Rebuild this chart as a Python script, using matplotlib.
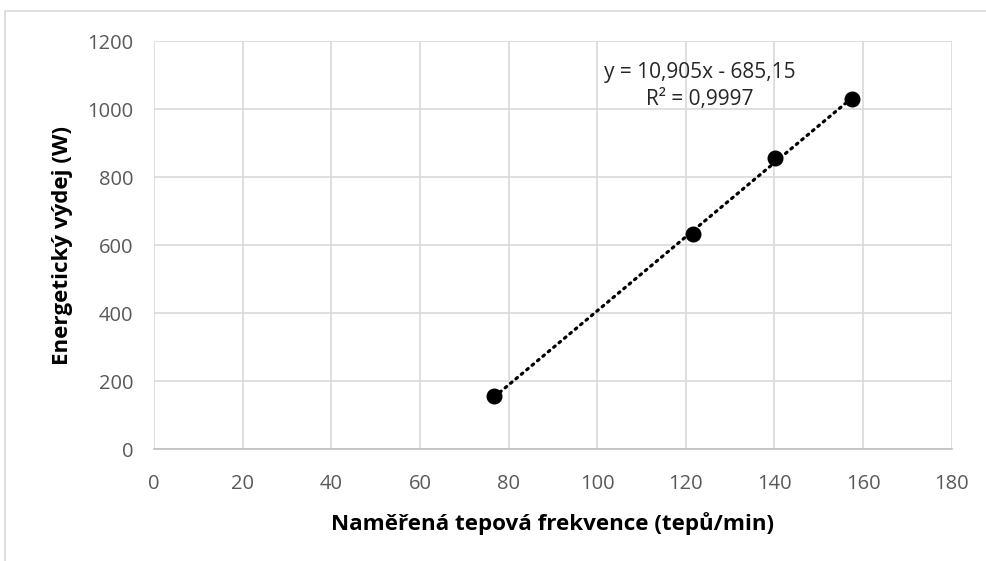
import matplotlib
matplotlib.use("Agg")
import matplotlib.pyplot as plt
import numpy as np
from matplotlib.patches import Rectangle

# hodnoty
tepova_frekvence = [76.8, 121.6, 140.2, 157.6]
energeticky_vydej = [155, 633, 855, 1030]
x_ticks = [0, 20, 40, 60, 80, 100, 120, 140, 160, 180]
y_ticks = [0, 200, 400, 600, 800, 1000, 1200]
rovnice = "y = 10,905x - 685,15"
r2_text = "R² = 0,9997"

plt.rcParams["font.family"] = ["Open Sans", "DejaVu Sans"]

fig = plt.figure(figsize=(9.86, 5.61), dpi=100)
ax = fig.add_axes([0.1562, 0.1996, 0.809, 0.7273])
renderer = fig.canvas.get_renderer()


def fit_size(txt, target_px, along="width"):
    # upraví velikost písma tak, aby text měl danou délku v pixelech
    bb = txt.get_window_extent(renderer)
    size = bb.width if along == "width" else bb.height
    txt.set_fontsize(txt.get_fontsize() * target_px / size)
    return txt.get_fontsize()


# rámeček grafu (Excel)
fig.add_artist(Rectangle((5 / 986, -0.1), 1.2, 1 - 11 / 561 + 0.1,
                         transform=fig.transFigure, fill=False,
                         edgecolor="#d9d9d9", linewidth=1.2))

# lineární trend
k, q = np.polyfit(tepova_frekvence, energeticky_vydej, 1)
xs = np.array([min(tepova_frekvence), max(tepova_frekvence)])
ax.plot(xs, k * xs + q, color="black", linewidth=2.3,
        linestyle=(0, (0.6, 1.6)), dash_capstyle="round", zorder=3)

ax.plot(tepova_frekvence, energeticky_vydej, "o", color="black",
        markersize=10.5, zorder=4)

ax.set_xlim(0, 180)
ax.set_ylim(0, 1200)
ax.set_xticks(x_ticks)
ax.set_yticks(y_ticks)
ax.grid(True, color="#d9d9d9", linewidth=1.2)
ax.set_axisbelow(True)
for s in ["top", "right", "left"]:
    ax.spines[s].set_visible(False)
ax.spines["bottom"].set_color("#bfbfbf")
ax.spines["bottom"].set_linewidth(1.2)

# velikost popisků os podle referenčního obrázku
tmp = fig.text(0, 0, "1200", fontsize=12)
tick_size = fit_size(tmp, 46)
tmp.remove()

ax.tick_params(axis="both", length=0, labelsize=tick_size,
               labelcolor="#595959")
ax.tick_params(axis="x", pad=18)
ax.tick_params(axis="y", pad=15)

xl = ax.set_xlabel("Naměřená tepová frekvence (tepů/min)", fontsize=13,
                   fontweight="bold", va="center", color="black")
yl = ax.set_ylabel("Energetický výdej (W)", fontsize=13, fontweight="bold",
                   va="center", color="black")
fit_size(xl, 440)
fit_size(yl, 237, along="height")
ax.xaxis.set_label_coords(0.5, (449 - 523) / 408)
ax.yaxis.set_label_coords((62 - 154) / 797.7, 0.5)

t1 = ax.text(123.2, 1107, rovnice, fontsize=12, ha="center", va="center",
             color="#262626")
eq_size = fit_size(t1, 192)
ax.text(123.2, 1027, r2_text, fontsize=eq_size, ha="center", va="center",
        color="#262626")

fig.savefig("out.png", dpi=100, facecolor="white")
